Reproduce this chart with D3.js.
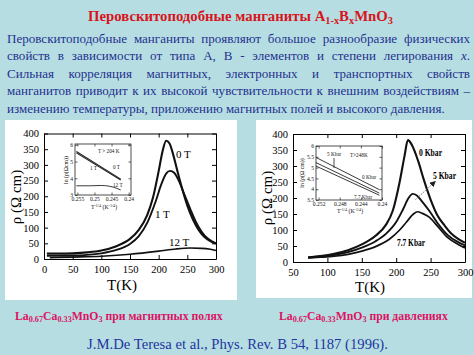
<!DOCTYPE html>
<html><head><meta charset="utf-8">
<script src="https://cdn.jsdelivr.net/npm/d3@7"></script>
<style>html,body{margin:0;padding:0;background:#b6dee2;}svg{display:block}</style>
</head><body>
<svg id="c" width="474" height="355"></svg>
<script>
// ---------- DATA ----------
// Left chart: resistivity vs T at magnetic fields
const T_0T  = [5,25,50,75,100,125,150,165,180,190,200,207,213,219,225,232,240,250,260,270,280,290,300];
const rho_0T= [17,17,18,21,27,40,64,92,140,195,280,345,377,368,335,285,230,170,125,92,70,57,49];
const T_1T  = [5,25,50,75,100,125,150,165,180,195,205,213,220,227,235,245,255,265,275,285,300];
const rho_1T= [10,10,11,13,18,28,48,72,115,185,240,272,281,275,250,205,160,118,87,66,50];
const T_12T = [10,50,100,150,200,230,255,275,290,300];
const rho_12T=[4,6,9,15,25,32,35,34,31,27];
const fieldLabels = ["0 T","1 T","12 T"];
const leftXTicks = [0,50,100,150,200,250,300];
const yTicks = [0,50,100,150,200,250,300,350,400];

// Right chart: resistivity vs T at pressures
const T_0K  = [72,90,110,130,150,170,185,195,205,212,217,223,232,240,250,260,270,280,290,300];
const rho_0K= [15,19,26,37,55,82,116,160,250,330,381,365,315,258,195,145,115,89,72,60];
const T_5K  = [72,90,110,130,150,170,185,200,210,218,224,230,238,248,260,275,290,300];
const rho_5K= [14,17,22,31,45,65,88,125,165,200,213,208,188,160,122,84,62,52];
const T_77K = [72,90,110,130,150,170,190,205,215,225,231,238,248,260,275,290,300];
const rho_77K=[13,15,18,24,34,48,71,100,125,150,157,152,140,112,76,55,44];
const pressureLabels = ["0 Kbar","5 Kbar","7.7 Kbar"];
const rightXTicks = [50,100,150,200,250,300];

// Left inset: ln(rho) vs T^-1/4
const inL_x   = [0.2553,0.2423];
const inL_0T  = [5.60,3.95];
const inL_1T  = [5.52,3.90];
const inL_x12 = [0.2553,0.2515,0.2480,0.2455,0.2435,0.2423];
const inL_12T = [3.55,3.55,3.57,3.52,3.40,3.30];
const inL_xTicks = [0.255,0.25,0.245,0.24];
const inL_xTickLabels = ["0.255","0.25","0.245","0.24"];
const inL_yTicks = [3,4,5,6];

// Right inset
const inR_x   = [0.2525,0.2405];
const inR_0K  = [5.47,3.98];
const inR_5K  = [5.23,3.82];
const inR_77K = [5.07,3.72];
const inR_xTicks = [0.252,0.248,0.244,0.24];
const inR_xTickLabels = ["0.252","0.248","0.244","0.24"];
const inR_yTicks = [3.5,4,4.5,5,5.5,6];
const inR_yTickLabels = ["3.5","4","4.5","5","5.5","6"];

// Texts
const bodyLines = [
 "Перовскитоподобные манганиты проявляют большое разнообразие физических",
 "свойств в зависимости от типа A, B - элементов и степени легирования x.",
 "Сильная корреляция магнитных, электронных и транспортных свойств",
 "манганитов приводит к их высокой чувствительности к внешним воздействиям –",
 "изменению температуры, приложению магнитных полей и высокого давления."
];

// ---------- DRAW ----------
const svg = d3.select("#c");
const SERIF = "'Liberation Serif','Times New Roman',serif";
svg.append("rect").attr("width",474).attr("height",355).attr("fill","#b6dee2");

function fitWidth(sel, target){
  const fs = parseFloat(sel.attr("font-size"));
  const w = sel.node().getBBox().width;
  sel.attr("font-size", fs*target/w);
}

// Title
const title = svg.append("text").attr("x",240.5).attr("y",21).attr("text-anchor","middle")
  .attr("font-family",SERIF).attr("font-weight","bold").attr("font-size",15).attr("fill","#d8141c");
title.append("tspan").text("Перовскитоподобные манганиты A");
title.append("tspan").attr("font-size","0.7em").attr("dy",3).text("1-x");
title.append("tspan").attr("dy",-3).text("B");
title.append("tspan").attr("font-size","0.7em").attr("dy",3).text("x");
title.append("tspan").attr("dy",-3).text("MnO");
title.append("tspan").attr("font-size","0.7em").attr("dy",3).text("3");
fitWidth(title, 305);

// Body text (justified)
const BODY_COLOR = "#24308f";
const baselines = [42.5,60,77.5,95,112.5];
const measure = svg.append("text").attr("font-family",SERIF).attr("font-size",14).text(bodyLines[4]);
const bodyFs = 14*438/measure.node().getComputedTextLength();
measure.remove();
bodyLines.forEach((line,i)=>{
  const words = line.split(" ");
  const g = svg.append("g");
  const nodes = words.map(w=>{
    const t = g.append("text").attr("font-family",SERIF).attr("font-size",bodyFs).attr("fill",BODY_COLOR).attr("y",baselines[i]);
    if(w==="x."){ t.append("tspan").attr("font-style","italic").text("x"); t.append("tspan").text("."); }
    else t.text(w);
    return t;
  });
  const widths = nodes.map(n=>n.node().getComputedTextLength());
  const total = d3.sum(widths);
  const space = (i<4) ? (463 - total)/(words.length-1) : bodyFs*0.25;
  let x = 7;
  nodes.forEach((n,k)=>{ n.attr("x",x); x += widths[k]+space; });
});

// Panels
svg.append("rect").attr("x",5).attr("y",120).attr("width",232).attr("height",180).attr("fill","#fff");
svg.append("rect").attr("x",256).attr("y",120).attr("width",216).attr("height",178).attr("fill","#fff");

function mainChart(cfg){
  const g = svg.append("g");
  const x = d3.scaleLinear().domain(cfg.xDomain).range([cfg.x0,cfg.x1]);
  const y = d3.scaleLinear().domain([0,400]).range([cfg.y1,cfg.y0]);
  const styleAxis = a => { a.selectAll("text").attr("font-family",SERIF).attr("font-size",10.5).attr("fill","#000");
    a.selectAll("line").attr("stroke","#000"); a.select(".domain").attr("stroke","#000"); };
  g.append("g").attr("transform",`translate(0,${cfg.y1})`)
    .call(d3.axisBottom(x).tickValues(cfg.xTicks).tickSizeInner(-4).tickSizeOuter(0).tickPadding(7).tickFormat(d3.format("d"))).call(styleAxis);
  g.append("g").attr("transform",`translate(0,${cfg.y0})`)
    .call(d3.axisTop(x).tickValues(cfg.xTicks).tickSizeInner(-4).tickSizeOuter(0).tickFormat("")).call(styleAxis);
  g.append("g").attr("transform",`translate(${cfg.x0},0)`)
    .call(d3.axisLeft(y).tickValues(yTicks).tickSizeInner(-4).tickSizeOuter(0).tickPadding(5).tickFormat(d3.format("d"))).call(styleAxis);
  g.append("g").attr("transform",`translate(${cfg.x1},0)`)
    .call(d3.axisRight(y).tickValues(yTicks).tickSizeInner(-4).tickSizeOuter(0).tickFormat("")).call(styleAxis);
  const line = d3.line().x(d=>x(d[0])).y(d=>y(d[1])).curve(d3.curveMonotoneX);
  cfg.series.forEach(s=>{
    g.append("path").attr("d",line(s.T.map((t,i)=>[t,s.v[i]]))).attr("fill","none")
      .attr("stroke","#111").attr("stroke-width",s.w);
  });
  g.append("text").attr("x",cfg.xt[0]).attr("y",cfg.xt[1]).attr("text-anchor","middle")
    .attr("font-family",SERIF).attr("font-size",15).text("T(K)");
  g.append("text").attr("transform",`translate(${cfg.yt[0]},${cfg.yt[1]}) rotate(-90)`).attr("text-anchor","middle")
    .attr("dominant-baseline","central").attr("font-family",SERIF).attr("font-size",15).text("ρ (Ω cm)");
  cfg.labels.forEach(l=>{
    const t = g.append("text").attr("x",l.x).attr("y",l.y).attr("font-family",SERIF).attr("font-size",l.fs)
      .attr("font-weight",l.bold?"bold":"normal").text(l.text);
    if(l.len) t.attr("textLength",l.len).attr("lengthAdjust","spacingAndGlyphs");
  });
  return {g,x,y};
}

mainChart({
  x0:44,x1:216,y0:133.5,y1:259, xDomain:[0,300], xTicks:leftXTicks,
  series:[{T:T_0T,v:rho_0T,w:2.1},{T:T_1T,v:rho_1T,w:1.9},{T:T_12T,v:rho_12T,w:1.6}],
  xt:[122,290], yt:[15.5,197],
  labels:[{text:fieldLabels[0],x:176,y:158,fs:11},{text:fieldLabels[1],x:155,y:218,fs:11},{text:fieldLabels[2],x:169,y:246,fs:11}]
});

const R = mainChart({
  x0:293,x1:465,y0:134,y1:262, xDomain:[50,300], xTicks:rightXTicks,
  series:[{T:T_0K,v:rho_0K,w:2.1},{T:T_5K,v:rho_5K,w:1.9},{T:T_77K,v:rho_77K,w:1.7}],
  xt:[370,291.5], yt:[266.5,198],
  labels:[{text:pressureLabels[0],x:419,y:155.5,fs:9.5,bold:true,len:23},
          {text:pressureLabels[1],x:433,y:179,fs:9.5,bold:true,len:23},
          {text:pressureLabels[2],x:397,y:245.5,fs:9.5,bold:true,len:28}]
});
const defs = svg.append("defs");
defs.append("marker").attr("id","ah").attr("viewBox","0 0 10 10").attr("refX",9).attr("refY",5)
  .attr("markerWidth",6).attr("markerHeight",6).attr("orient","auto")
  .append("path").attr("d","M0,0L10,5L0,10z").attr("fill","#222");
R.g.append("line").attr("x1",R.x(228)).attr("y1",R.y(195)).attr("x2",R.x(257)).attr("y2",R.y(252))
  .attr("stroke","#777").attr("stroke-width",1).attr("stroke-dasharray","1.5,1").attr("marker-end","url(#ah)");

function inset(cfg){
  const g = svg.append("g");
  const x = d3.scaleLinear().domain(cfg.xDomain).range([cfg.x0,cfg.x1]);
  const y = d3.scaleLinear().domain(cfg.yDomain).range([cfg.y1,cfg.y0]);
  g.append("rect").attr("x",cfg.x0).attr("y",cfg.y0).attr("width",cfg.x1-cfg.x0).attr("height",cfg.y1-cfg.y0)
    .attr("fill","#fff").attr("stroke","#222").attr("stroke-width",0.8);
  const st = a => { a.select(".domain").remove(); a.selectAll("line").attr("stroke","#222").attr("stroke-width",0.7);
    a.selectAll("text").attr("font-family",SERIF).attr("font-size",5.6).attr("fill","#111"); };
  g.append("g").attr("transform",`translate(0,${cfg.y1})`)
    .call(d3.axisBottom(x).tickValues(cfg.xTicks).tickSize(-2.5).tickPadding(2).tickFormat((d,i)=>cfg.xLabels[i])).call(st);
  g.append("g").attr("transform",`translate(0,${cfg.y0})`)
    .call(d3.axisTop(x).tickValues(cfg.xTicks).tickSize(-2.5).tickFormat("")).call(st);
  g.append("g").attr("transform",`translate(${cfg.x0},0)`)
    .call(d3.axisLeft(y).tickValues(cfg.yTicks).tickSize(-2.5).tickPadding(2).tickFormat((d,i)=>cfg.yLabels[i])).call(st);
  g.append("g").attr("transform",`translate(${cfg.x1},0)`)
    .call(d3.axisRight(y).tickValues(cfg.yTicks).tickSize(-2.5).tickFormat("")).call(st);
  const line = d3.line().x(d=>x(d[0])).y(d=>y(d[1])).curve(d3.curveMonotoneX);
  cfg.series.forEach(s=>{
    g.append("path").attr("d",line(s.x.map((v,i)=>[v,s.v[i]]))).attr("fill","none").attr("stroke","#222").attr("stroke-width",s.w||0.9);
  });
  const xt = g.append("text").attr("x",cfg.xt[0]).attr("y",cfg.xt[1]).attr("text-anchor","middle")
    .attr("font-family",SERIF).attr("font-size",5.8).attr("fill","#111");
  xt.append("tspan").text("T");
  xt.append("tspan").attr("font-size","0.7em").attr("dy",-2).text("-1/4");
  xt.append("tspan").attr("dy",2).text(" (K");
  xt.append("tspan").attr("font-size","0.7em").attr("dy",-2).text("-1/4");
  xt.append("tspan").attr("dy",2).text(")");
  g.append("text").attr("transform",`translate(${cfg.yt[0]},${cfg.yt[1]}) rotate(-90)`).attr("text-anchor","middle")
    .attr("dominant-baseline","central").attr("font-family",SERIF).attr("font-size",5.8).attr("fill","#111").text(cfg.ytText);
  cfg.labels.forEach(l=>{
    g.append("text").attr("x",l.x).attr("y",l.y).attr("font-family",SERIF).attr("font-size",5.2).attr("fill","#111").text(l.text);
  });
  return {g,x,y};
}

inset({
  x0:75,x1:131,y0:144,y1:195, xDomain:[0.2557,0.2393], yDomain:[3,6.05],
  xTicks:inL_xTicks, xLabels:inL_xTickLabels, yTicks:inL_yTicks, yLabels:inL_yTicks.map(String),
  series:[{x:inL_x,v:inL_0T,w:1.1},{x:inL_x,v:inL_1T,w:1.1},{x:inL_x12,v:inL_12T,w:0.9}],
  xt:[104,208.5], yt:[66,170], ytText:"ln (ρ(Ωcm))",
  labels:[{text:"T > 204 K",x:98,y:153},{text:"1 T",x:90,y:170},{text:"0 T",x:113,y:169},{text:"12 T",x:113,y:187}]
});

const IR = inset({
  x0:316,x1:382,y0:146,y1:200, xDomain:[0.2525,0.2400], yDomain:[3.5,6.0],
  xTicks:inR_xTicks, xLabels:inR_xTickLabels, yTicks:inR_yTicks, yLabels:inR_yTickLabels,
  series:[{x:inR_x,v:inR_0K},{x:inR_x,v:inR_5K},{x:inR_x,v:inR_77K}],
  xt:[350,213], yt:[302,173], ytText:"ln (ρ(Ω cm))",
  labels:[{text:"5 Kbar",x:327,y:156},{text:"T>248K",x:350,y:157},{text:"0 Kbar",x:362,y:179},{text:"7.7 Kbar",x:354,y:199}]
});
IR.g.append("line").attr("x1",334).attr("y1",158).attr("x2",334).attr("y2",168).attr("stroke","#222").attr("stroke-width",0.8);

function caption(x, target, rest){
  const t = svg.append("text").attr("x",x).attr("y",319.5).attr("font-family",SERIF).attr("font-weight","bold")
    .attr("font-size",10).attr("fill","#dc1464");
  t.append("tspan").text("La");
  t.append("tspan").attr("font-size","0.7em").attr("dy",2).text("0.67");
  t.append("tspan").attr("dy",-2).text("Ca");
  t.append("tspan").attr("font-size","0.7em").attr("dy",2).text("0.33");
  t.append("tspan").attr("dy",-2).text("MnO");
  t.append("tspan").attr("font-size","0.7em").attr("dy",2).text("3");
  t.append("tspan").attr("dy",-2).text(rest);
  fitWidth(t, target);
}
caption(15, 208, " при магнитных полях");
caption(279, 169, " при давлениях");

const cit = svg.append("text").attr("x",237.5).attr("y",348.5).attr("text-anchor","middle").attr("font-family",SERIF)
  .attr("font-size",14).attr("fill","#1e34a0").text("J.M.De Teresa et al., Phys. Rev. B 54, 1187 (1996).");
fitWidth(cit, 301);
</script>
</body></html>
